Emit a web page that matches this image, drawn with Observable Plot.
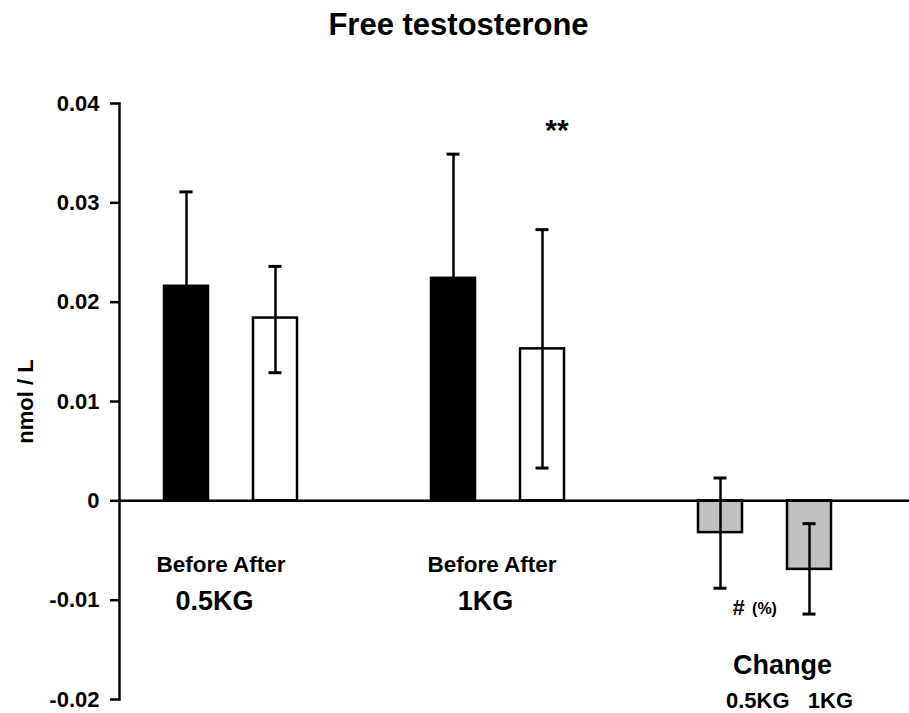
<!DOCTYPE html>
<html>
<head>
<meta charset="utf-8">
<script src="https://cdn.jsdelivr.net/npm/d3@7"></script>
<script src="https://cdn.jsdelivr.net/npm/@observablehq/plot@0.6"></script>
<style>
  html, body { margin: 0; padding: 0; background: #fff; }
  #title { font-family: "Liberation Sans", Arial, sans-serif; font-weight: bold; font-size: 31px;
           line-height: 31px; height: 40px; box-sizing: border-box; padding-top: 9px;
           width: 909px; text-align: center; padding-left: 8px; color: #000; }
  #chart svg { display: block; }
</style>
</head>
<body>
<div id="title">Free testosterone</div>
<div id="chart"></div>
<script>
// ---- data ----
const slots = ["0.5KG Before", "0.5KG After", "gap1", "1KG Before", "1KG After", "gap2", "Change 0.5KG", "Change 1KG"];
const categories = ["0.5KG Before", "0.5KG After", "1KG Before", "1KG After", "Change 0.5KG", "Change 1KG"];
const kinds = ["before", "after", "before", "after", "change", "change"];
const means = [0.0216, 0.0184, 0.0224, 0.0153, -0.0032, -0.0069];
const upper = [0.0311, 0.0236, 0.0349, 0.0273, 0.0023, -0.0023];
const lower = [null, 0.0129, null, 0.0033, -0.0088, -0.0114];
const yTicks = [-0.02, -0.01, 0, 0.01, 0.02, 0.03, 0.04];

const rows = categories.map((c, i) => ({cat: c, kind: kinds[i], mean: means[i], upper: upper[i], lower: lower[i]}));
const fillOf = {before: "#000000", after: "#ffffff", change: "#c0c0c0"};
const lowCaps = rows.filter(d => d.lower != null);

const bold = {fontWeight: "bold", fill: "#000"};

const chart = Plot.plot({
  width: 909,
  height: 673,
  marginTop: 63,
  marginBottom: 14,
  marginLeft: 119,
  marginRight: 0,
  style: {background: "#fff", fontFamily: "'Liberation Sans', Arial, sans-serif", fontSize: "22px", overflow: "visible"},
  x: {type: "band", domain: slots, paddingInner: 0.506, paddingOuter: 0.691, align: 0.366, axis: null},
  y: {domain: [-0.02, 0.04], axis: null},
  marks: [
    Plot.barY(rows, {x: "cat", y: "mean", fill: d => fillOf[d.kind], stroke: "#000", strokeWidth: 2.5}),
    Plot.ruleX(rows, {x: "cat", y1: d => d.lower ?? d.mean, y2: "upper", stroke: "#000", strokeWidth: 2.5}),
    Plot.tickY(rows, {x: "cat", y: "upper", stroke: "#000", strokeWidth: 3, insetLeft: 15.5, insetRight: 15.5}),
    Plot.tickY(lowCaps, {x: "cat", y: "lower", stroke: "#000", strokeWidth: 3, insetLeft: 15.5, insetRight: 15.5}),
    Plot.ruleY([0], {stroke: "#000", strokeWidth: 2.5}),
    Plot.frame({anchor: "left", stroke: "#000", strokeWidth: 2.5}),
    Plot.axisY({ticks: yTicks, tickSize: 9, tickPadding: 11, tickFormat: d => d === 0 ? "0" : d.toFixed(2),
                fontSize: 22, fontWeight: "bold", stroke: "#000", strokeWidth: 2.5, label: null}),
    Plot.text(["nmol / L"], {frameAnchor: "left", textAnchor: "middle", rotate: -90, dx: -87, lineAnchor: "bottom", fontSize: 22, ...bold}),
    // annotations
    Plot.text(["Before After"], {x: ["0.5KG Before"], y: [-0.00715], dx: 34.5, lineAnchor: "bottom", fontSize: 22.5, ...bold}),
    Plot.text(["Before After"], {x: ["1KG Before"], y: [-0.00715], dx: 38.5, lineAnchor: "bottom", fontSize: 22.5, ...bold}),
    Plot.text(["0.5KG"], {x: ["0.5KG Before"], y: [-0.01098], dx: 28, lineAnchor: "bottom", fontSize: 27, ...bold}),
    Plot.text(["1KG"], {x: ["1KG Before"], y: [-0.01098], dx: 32, lineAnchor: "bottom", fontSize: 27, ...bold}),
    Plot.text(["**"], {x: ["1KG After"], y: [0.0363], dx: 14.5, lineAnchor: "bottom", fontSize: 30, ...bold}),
    Plot.text(["#"], {x: ["Change 0.5KG"], y: [-0.01148], dx: 18, lineAnchor: "bottom", fontSize: 22, ...bold}),
    Plot.text(["(%)"], {x: ["Change 0.5KG"], y: [-0.01138], dx: 44, lineAnchor: "bottom", fontSize: 16, ...bold}),
    Plot.text(["Change"], {x: ["Change 1KG"], y: [-0.01742], dx: -27, lineAnchor: "bottom", fontSize: 27, ...bold}),
    Plot.text(["0.5KG\u00a0\u00a0\u00a01KG"], {x: ["Change 1KG"], y: [-0.02085], dx: -20, lineAnchor: "bottom", fontSize: 22, ...bold})
  ]
});
document.getElementById("chart").appendChild(chart);
</script>
</body>
</html>
